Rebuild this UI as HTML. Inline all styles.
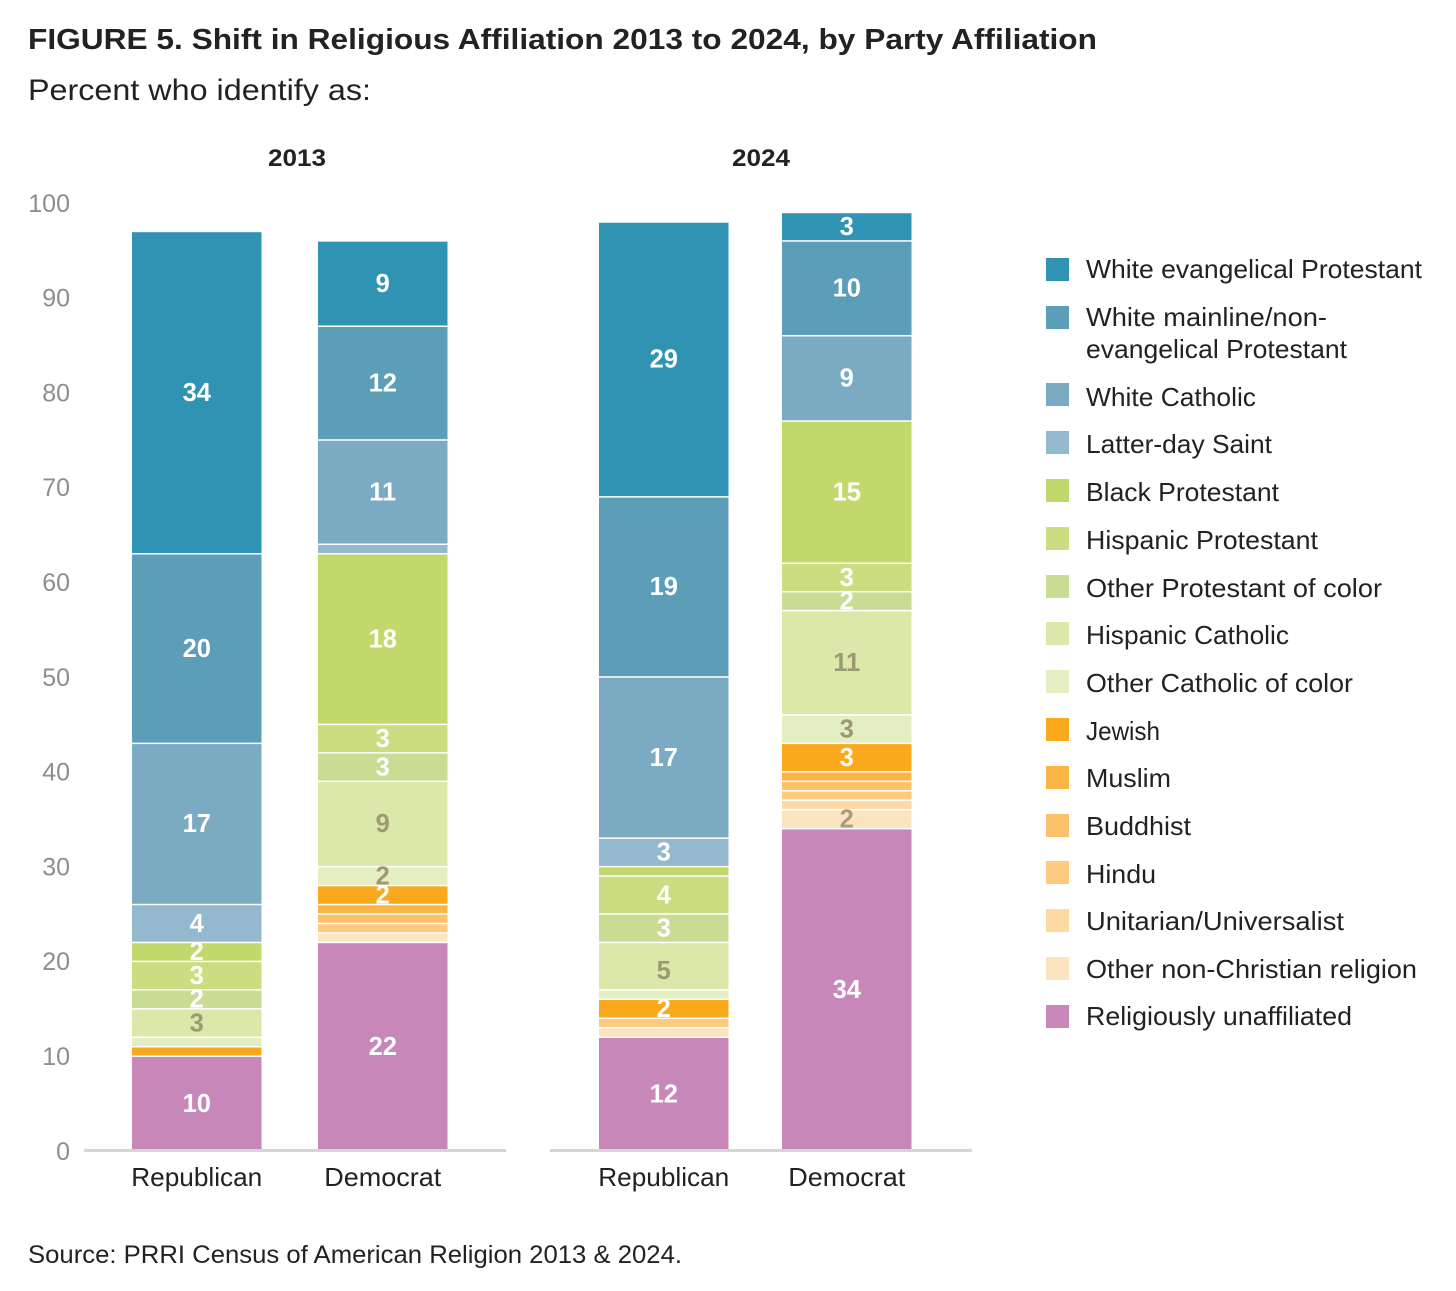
<!DOCTYPE html>
<html lang="en">
<head>
<meta charset="utf-8">
<title>Shift in Religious Affiliation 2013 to 2024, by Party Affiliation</title>
<style>
  html, body { margin: 0; padding: 0; background: #fff; }
  svg { display: block; font-family: "Liberation Sans", sans-serif; }
  .title { font-size: 29px; font-weight: 700; fill: #222; }
  .subtitle { font-size: 30px; fill: #222; }
  .panel-title { font-size: 24px; font-weight: 700; fill: #222; text-anchor: middle; }
  .tick { font-size: 25px; fill: #8b8e90; text-anchor: end; }
  .cat { font-size: 26px; fill: #222; text-anchor: middle; }
  .leg { font-size: 26px; fill: #222; }
  .source { font-size: 25px; fill: #222; }
  .val { font-size: 25.5px; font-weight: 700; text-anchor: middle; }
  .s0 { fill: #c787b9; } .s1 { fill: #fde4c1; } .s2 { fill: #fdd9a4; } .s3 { fill: #fdca80; }
  .s4 { fill: #fdc06b; } .s5 { fill: #fbb545; } .s6 { fill: #f9a91b; } .s7 { fill: #e3eec2; }
  .s8 { fill: #dce7aa; } .s9 { fill: #c8dc94; } .s10 { fill: #cadd80; } .s11 { fill: #c1d96c; }
  .s12 { fill: #94b9ce; } .s13 { fill: #7aabc2; } .s14 { fill: #5c9db8; } .s15 { fill: #3093b3; }
</style>
</head>
<body>
<svg id="chart" xmlns="http://www.w3.org/2000/svg" width="1456" height="1291" viewBox="0 0 1456 1291">
  <text class="title" x="28" y="49" textLength="1069" lengthAdjust="spacingAndGlyphs">FIGURE 5. Shift in Religious Affiliation 2013 to 2024, by Party Affiliation</text>
  <text class="subtitle" x="28" y="100" textLength="343" lengthAdjust="spacingAndGlyphs">Percent who identify as:</text>

  <g id="plot"></g>

  <g>
    <g><rect class="s15" x="1046" y="258" width="23" height="23"/><text class="leg" x="1086" y="278" textLength="336" lengthAdjust="spacingAndGlyphs">White evangelical Protestant</text></g>
    <g><rect class="s14" x="1046" y="306" width="23" height="23"/><text class="leg" x="1086" y="326" textLength="241" lengthAdjust="spacingAndGlyphs">White mainline/non-</text><text class="leg" x="1086" y="358" textLength="261" lengthAdjust="spacingAndGlyphs">evangelical Protestant</text></g>
    <g><rect class="s13" x="1046" y="383" width="23" height="23"/><text class="leg" x="1086" y="406" textLength="170" lengthAdjust="spacingAndGlyphs">White Catholic</text></g>
    <g><rect class="s12" x="1046" y="431" width="23" height="23"/><text class="leg" x="1086" y="453" textLength="186" lengthAdjust="spacingAndGlyphs">Latter-day Saint</text></g>
    <g><rect class="s11" x="1046" y="479" width="23" height="23"/><text class="leg" x="1086" y="501" textLength="193" lengthAdjust="spacingAndGlyphs">Black Protestant</text></g>
    <g><rect class="s10" x="1046" y="527" width="23" height="23"/><text class="leg" x="1086" y="549" textLength="232" lengthAdjust="spacingAndGlyphs">Hispanic Protestant</text></g>
    <g><rect class="s9" x="1046" y="575" width="23" height="23"/><text class="leg" x="1086" y="597" textLength="296" lengthAdjust="spacingAndGlyphs">Other Protestant of color</text></g>
    <g><rect class="s8" x="1046" y="622" width="23" height="23"/><text class="leg" x="1086" y="644" textLength="203" lengthAdjust="spacingAndGlyphs">Hispanic Catholic</text></g>
    <g><rect class="s7" x="1046" y="670" width="23" height="23"/><text class="leg" x="1086" y="692" textLength="267" lengthAdjust="spacingAndGlyphs">Other Catholic of color</text></g>
    <g><rect class="s6" x="1046" y="718" width="23" height="23"/><text class="leg" x="1086" y="740" textLength="74" lengthAdjust="spacingAndGlyphs">Jewish</text></g>
    <g><rect class="s5" x="1046" y="766" width="23" height="23"/><text class="leg" x="1086" y="787" textLength="85" lengthAdjust="spacingAndGlyphs">Muslim</text></g>
    <g><rect class="s4" x="1046" y="814" width="23" height="23"/><text class="leg" x="1086" y="835" textLength="105" lengthAdjust="spacingAndGlyphs">Buddhist</text></g>
    <g><rect class="s3" x="1046" y="861" width="23" height="23"/><text class="leg" x="1086" y="883" textLength="70" lengthAdjust="spacingAndGlyphs">Hindu</text></g>
    <g><rect class="s2" x="1046" y="909" width="23" height="23"/><text class="leg" x="1086" y="930" textLength="258" lengthAdjust="spacingAndGlyphs">Unitarian/Universalist</text></g>
    <g><rect class="s1" x="1046" y="957" width="23" height="23"/><text class="leg" x="1086" y="978" textLength="331" lengthAdjust="spacingAndGlyphs">Other non-Christian religion</text></g>
    <g><rect class="s0" x="1046" y="1005" width="23" height="23"/><text class="leg" x="1086" y="1025" textLength="266" lengthAdjust="spacingAndGlyphs">Religiously unaffiliated</text></g>
  </g>

  <text class="source" x="28" y="1263" textLength="654" lengthAdjust="spacingAndGlyphs">Source: PRRI Census of American Religion 2013 &amp; 2024.</text>

<script>
// Series order, bottom of stack to top:
// unaffiliated, other non-Christian, Unitarian, Hindu, Buddhist, Muslim, Jewish,
// other Catholic of color, Hispanic Catholic, other Protestant of color,
// Hispanic Protestant, Black Protestant, Latter-day Saint, White Catholic,
// White mainline, White evangelical
const seriesKeys = ['unaffiliated','other-non-christian','unitarian','hindu','buddhist','muslim','jewish','other-catholic','hispanic-catholic','other-protestant','hispanic-protestant','black-protestant','latter-day-saint','white-catholic','white-mainline','white-evangelical'];
const years = ['2013', '2024'];
const parties = ['Republican', 'Democrat'];
const republican2013 = [10,0,0,0,0,0,1,1,3,2,3,2,4,17,20,34];
const democrat2013   = [22,1,0,1,1,1,2,2,9,3,3,18,1,11,12,9];
const republican2024 = [12,1,0,1,0,0,2,1,5,3,4,1,3,17,19,29];
const democrat2024   = [34,2,1,1,1,1,3,3,11,2,3,15,0,9,10,3];
const yTicks = [0,10,20,30,40,50,60,70,80,90,100];

const barValues = [[republican2013, democrat2013], [republican2024, democrat2024]];
const NS = 'http://www.w3.org/2000/svg';
const plot = document.getElementById('plot');

function yScale(v) { return 1151 - v * 9.48; }
function barLeft(panel, party) { return panel === 0 ? 132 + party * 186 : 599 + party * 183; }
function labelFill(s) {
  if (s === 7 || s === 8) return '#9c9a72';
  if (s === 1) return '#ad9a7f';
  return '#ffffff';
}
function make(tag, attrs, text) {
  const el = document.createElementNS(NS, tag);
  for (const k in attrs) el.setAttribute(k, attrs[k]);
  if (text !== undefined) el.textContent = text;
  return el;
}

yTicks.forEach(function (t) {
  const el = make('text', { class: 'tick', x: 70, y: yScale(t) + 8.8 }, String(t));
  
  
  plot.appendChild(el);
});

years.forEach(function (year, p) {
  const center = p === 0 ? 297 : 761;
  const title = make('text', { class: 'panel-title', x: center, y: 166, textLength: 58, lengthAdjust: 'spacingAndGlyphs' }, year);
  
  
  plot.appendChild(title);

  parties.forEach(function (party, q) {
    const values = barValues[p][q];
    const left = barLeft(p, q);
    const width = 129.5;
    let cum = 0;
    const labels = [];
    values.forEach(function (v, s) {
      if (v <= 0) return;
      const top = yScale(cum + v);
      const bottom = yScale(cum);
      const seg = make('rect', { class: 's' + s, x: left, y: top + 0.75, width: width, height: Math.max(bottom - top - 1.5, 0.5) });
      
      
      plot.appendChild(seg);
      const nudge = (p === 1 && q === 0 && s === 8) ? 4.5 : 0;
      if (v >= 2) labels.push({ v: v, s: s, y: (top + bottom) / 2 + 8.3 + nudge });
      cum += v;
    });
    labels.forEach(function (l) {
      const lab = make('text', { class: 'val', x: left + width / 2, y: l.y, fill: labelFill(l.s) }, String(l.v));
      
      
      plot.appendChild(lab);
    });
    const cat = make('text', { class: 'cat', x: left + width / 2, y: 1186, textLength: q === 0 ? 131 : 117, lengthAdjust: 'spacingAndGlyphs' }, party);
    
    
    plot.appendChild(cat);
  });

  const axis = make('rect', { x: p === 0 ? 84 : 550, y: 1149, width: 422, height: 3, fill: '#d3d5d6' });
  
  
  plot.appendChild(axis);
});
</script>
</svg>
</body>
</html>
